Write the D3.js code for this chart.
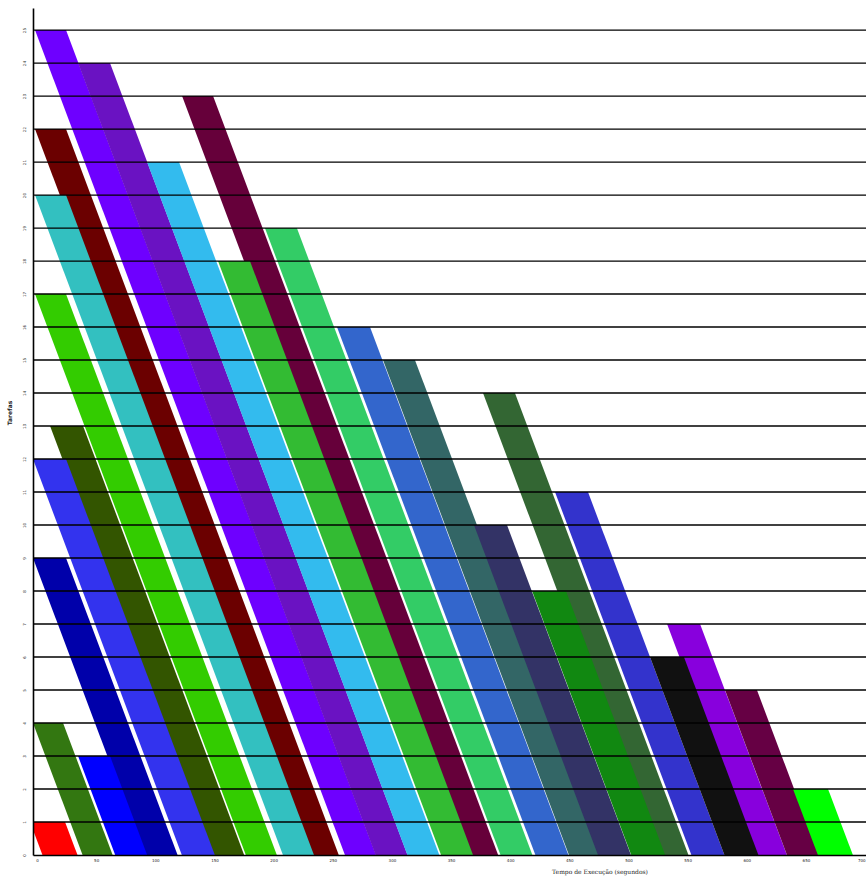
<!DOCTYPE html>
<html>
<head>
<meta charset="utf-8">
<script src="https://cdn.jsdelivr.net/npm/d3@7"></script>
<style>
  body { margin: 0; background: #fff; }
  svg { display: block; }
</style>
</head>
<body>
<div id="chart"></div>
<script>
// one entry per band: top level, start at top, finish at level 0, duration (band width)
const levels    = [25, 24, 23, 22, 21, 20, 19, 18, 17, 16, 15, 14, 13, 12, 11, 10, 9, 8, 7, 6, 5, 4, 3, 2, 1];
const starts    = [-1.7, 34.7, 122.6, -1.7, 93, -1.7, 192.7, 153, -1.7, 253.6, 292.5, 377, 11, -3.4, 437.9, 369.4, -3.4, 418.5, 532.6, 518.2, 581.6, -3.4, 34.7, 639.1, -5.9];
const finishes  = [260.3, 286.2, 363.6, 228.9, 313.1, 207.9, 391.8, 341.6, 176.5, 421.3, 449.7, 523.7, 147.2, 122.4, 553.2, 474.2, 90.9, 502.3, 606, 581.1, 634, 38.5, 66.1, 660.1, 4.6];
const durations = [26.2, 27, 26.2, 26.2, 27, 26.2, 27, 27, 26.2, 27.9, 27, 27, 27.9, 27.9, 27.9, 27.9, 27.9, 28.7, 27.9, 28.7, 27, 25.4, 27, 29.6, 29.6];
const colors    = ["#6e00ff", "#6a12c2", "#66003a", "#6b0000", "#33bbee", "#33c0c0", "#33cc66", "#33bb33",
                   "#33cc00", "#3366cc", "#336666", "#336633", "#335500", "#3333ee", "#3333cc", "#333366",
                   "#0000aa", "#118811", "#8800dd", "#111111", "#660044", "#337711", "#0000ff", "#00ff00", "#ff0000"];

const xTicks = [0, 50, 100, 150, 200, 250, 300, 350, 400, 450, 500, 550, 600, 650, 700];
const yTicks = [0, 1, 2, 3, 4, 5, 6, 7, 8, 9, 10, 11, 12, 13, 14, 15, 16, 17, 18, 19, 20, 21, 22, 23, 24, 25];
const xLabel = "Tempo de Execução (segundos)";
const yLabel = "Tarefas";

const width = 866;
const height = 879;
const margin = { top: 8, right: 0, bottom: 24, left: 33 };

const bands = levels.map((k, i) => ({
  level: k, start: starts[i], finish: finishes[i], dur: durations[i], color: colors[i]
}));

const x = d3.scaleLinear()
    .domain([-3.4, 700.8])
    .range([margin.left, width - margin.right]);

const y = d3.scaleLinear()
    .domain([0, 25.67])
    .range([height - margin.bottom, margin.top]);

const svg = d3.select("#chart")
  .append("svg")
    .attr("width", width)
    .attr("height", height)
    .attr("viewBox", [0, 0, width, height]);

svg.append("defs").append("clipPath")
    .attr("id", "plot-clip")
  .append("rect")
    .attr("x", margin.left)
    .attr("y", margin.top)
    .attr("width", width - margin.left - margin.right)
    .attr("height", height - margin.top - margin.bottom);

const line = d3.line()
    .x(d => x(d[0]))
    .y(d => y(d[1]));

// bands
svg.append("g")
    .attr("clip-path", "url(#plot-clip)")
  .selectAll("path")
  .data(bands)
  .join("path")
    .attr("d", d => line([
      [d.start, d.level],
      [d.start + d.dur, d.level],
      [d.finish + d.dur, 0],
      [d.finish, 0]
    ]) + "Z")
    .attr("fill", d => d.color);

// horizontal level lines
svg.append("g")
  .selectAll("line")
  .data(yTicks.filter(t => t > 0))
  .join("line")
    .attr("x1", margin.left)
    .attr("x2", width)
    .attr("y1", d => y(d))
    .attr("y2", d => y(d))
    .attr("stroke", "#000")
    .attr("stroke-width", 1.4);

// x axis
svg.append("g")
    .attr("transform", `translate(0,${y(0)})`)
    .call(d3.axisBottom(x).tickValues(xTicks).tickSize(0).tickPadding(4))
    .call(g => g.select(".domain").attr("stroke", "#000").attr("stroke-width", 1.6))
    .call(g => g.selectAll("text")
        .attr("font-family", "DejaVu Sans, sans-serif")
        .attr("font-size", 4)
        .attr("fill", "#222")
        .attr("text-anchor", d => d === xTicks[xTicks.length - 1] ? "end" : "middle"));

// y axis
const yAxis = svg.append("g")
    .attr("transform", `translate(${margin.left},0)`)
    .call(d3.axisLeft(y).tickValues(yTicks).tickSize(0).tickFormat(""))
    .call(g => g.select(".domain").attr("stroke", "#000").attr("stroke-width", 1.6));

yAxis.selectAll(".tick")
  .append("text")
    .attr("transform", "translate(-8,0) rotate(-90)")
    .attr("text-anchor", "middle")
    .attr("dy", "0.35em")
    .attr("font-family", "DejaVu Sans, sans-serif")
    .attr("font-size", 4)
    .attr("fill", "#222")
    .text(d => d);

// axis titles
svg.append("text")
    .attr("x", 600)
    .attr("y", 874)
    .attr("text-anchor", "middle")
    .attr("font-family", "DejaVu Serif, serif")
    .attr("font-size", 6)
    .attr("fill", "#222")
    .text(xLabel);

svg.append("text")
    .attr("transform", `translate(12,${413}) rotate(-90)`)
    .attr("text-anchor", "middle")
    .attr("font-family", "DejaVu Sans, sans-serif")
    .attr("font-weight", "bold")
    .attr("font-size", 6)
    .attr("fill", "#222")
    .text(yLabel);
</script>
</body>
</html>
